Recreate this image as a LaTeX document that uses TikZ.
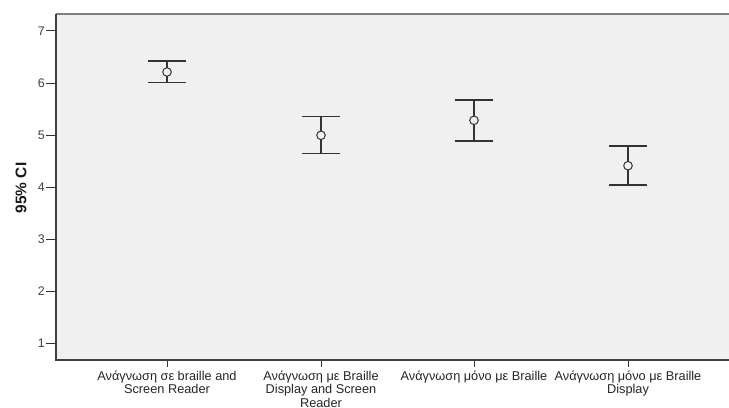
\documentclass[tikz,border=0pt]{standalone}
\usepackage{fontspec}
\setmainfont{Liberation Sans}
\begin{document}
\begin{tikzpicture}[x=1bp,y=1bp,
  cibar/.style={draw=black!80, line width=1.1bp},
  axtick/.style={draw=black!80, line width=1bp},
  ticklab/.style={anchor=east, inner sep=0pt, font=\fontsize{12.5}{14}\selectfont, text=black!75},
  catlab/.style={anchor=north, inner sep=0pt, align=center, font=\fontsize{12.8}{13.5}\selectfont, text=black!85},
  meanmark/.style={draw=black!80, line width=1bp}]
\useasboundingbox (0,0) rectangle (729,407);
\fill[white] (0,0) rectangle (729,407);
% plot area
\fill[black!6] (56,47) rectangle (729,393);
\draw[black!50, line width=1.6bp] (56,393) -- (729,393);
\draw[black!75, line width=1.1bp] (56,393) -- (56,47) -- (729,47);
% y ticks
\foreach \v [count=\k from 0] in {1,...,7} {
  \pgfmathsetmacro{\yy}{64+52*\k}
  \draw[axtick] (46,\yy) -- (56,\yy);
  \node[ticklab] (yl\v) at (45,\yy) {\v};
}
\node[rotate=90, font=\bfseries\fontsize{15.5}{17}\selectfont, text=black!90] (ylab) at (21,219) {95\% CI};
% x ticks and labels
\foreach \xx in {167,321,474,628} { \draw[axtick] (\xx,47) -- (\xx,40); }
\node[catlab] (c1) at (167,36.5) {Ανάγνωση σε braille and\\Screen Reader};
\node[catlab] (c2) at (321,36.5) {Ανάγνωση με Braille\\Display and Screen\\Reader};
\node[catlab] (c3) at (474,36.5) {Ανάγνωση μόνο με Braille};
\node[catlab] (c4) at (628,36.5) {Ανάγνωση μόνο με Braille\\Display};
% error bars: x, top py, bottom py, mean py
\foreach \xx/\hi/\lo/\mn in {167/61/82.7/72, 321/116.7/153.7/135.3, 474/100/141/120.3, 628/146/185/165.7} {
  \pgfmathsetmacro{\yh}{407-\hi}
  \pgfmathsetmacro{\yl}{407-\lo}
  \pgfmathsetmacro{\ym}{407-\mn}
  \draw[cibar] (\xx-19,\yh) -- (\xx+19,\yh);
  \draw[cibar] (\xx-19,\yl) -- (\xx+19,\yl);
  \draw[cibar] (\xx,\yh) -- (\xx,\yl);
  \draw[meanmark, fill=black!6] (\xx,\ym) ellipse (4.3 and 4.3);
}
\end{tikzpicture}
\end{document}
